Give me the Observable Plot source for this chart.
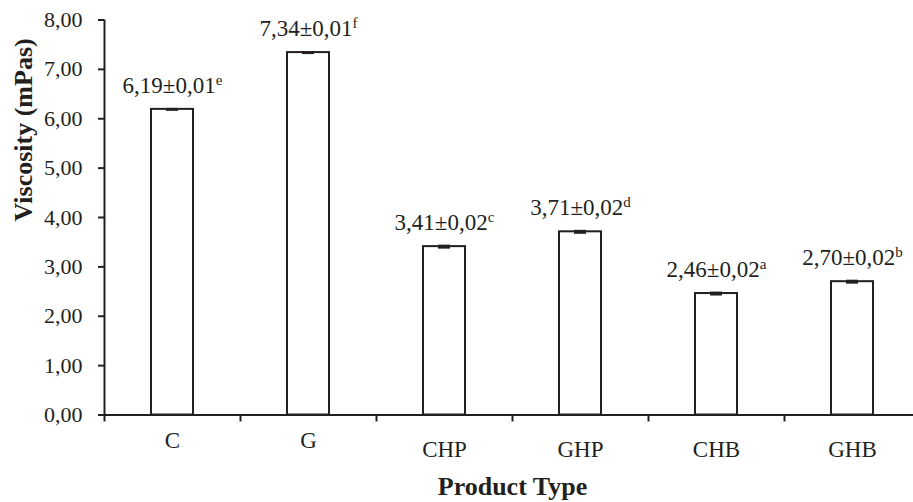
<!DOCTYPE html>
<html><head><meta charset="utf-8">
<script src="https://cdn.jsdelivr.net/npm/d3@7"></script>
<script src="https://cdn.jsdelivr.net/npm/@observablehq/plot@0.6"></script>
<style>
body{margin:0;background:#fff;}
#chart svg{font-family:"Liberation Serif","Times New Roman",serif;}
</style></head><body><div id="chart"></div>
<script>
const categories = ["C", "G", "CHP", "GHP", "CHB", "GHB"];
const viscosity = [6.19, 7.34, 3.41, 3.71, 2.46, 2.70];
const sdev = [0.01, 0.01, 0.02, 0.02, 0.02, 0.02];
const letters = ["e", "f", "c", "d", "a", "b"];
const raisedLabels = ["C", "G"];
const yTicks = [0, 1, 2, 3, 4, 5, 6, 7, 8];
const yTitle = "Viscosity (mPas)";
const xTitle = "Product Type";

const comma = v => v.toFixed(2).replace(".", ",");
const data = categories.map((c, i) => ({
  cat: c, v: viscosity[i], e: sdev[i], letter: letters[i],
  label: comma(viscosity[i]) + "±" + comma(sdev[i])
}));
const ink = "#231f20";
const halfStep = 68;

const plot = Plot.plot({
  width: 913, height: 502,
  marginLeft: 104, marginRight: -7, marginTop: 19.5, marginBottom: 87.5,
  style: {background: "white", color: ink, fontFamily: "'Liberation Serif', serif", overflow: "visible"},
  x: {domain: categories, paddingInner: 0.69, paddingOuter: 0.345, label: null, axis: null},
  y: {domain: [0, 8], label: null, axis: null},
  marks: [
    Plot.text(data, {x: "cat", y: d => d.v + d.e, text: "label", lineAnchor: "bottom", dy: -16, fontSize: 23, fill: ink}),
    Plot.barY(data, {x: "cat", y: "v", fill: "white", stroke: ink, strokeWidth: 2}),
    Plot.ruleX(data, {x: "cat", y1: d => d.v - d.e, y2: d => d.v + d.e, stroke: ink, strokeWidth: 1.5}),
    Plot.tickY(data, {x: "cat", y: d => d.v + d.e, insetLeft: 15, insetRight: 15, stroke: ink, strokeWidth: 2}),
    Plot.tickY(data, {x: "cat", y: d => d.v - d.e, insetLeft: 15, insetRight: 15, stroke: ink, strokeWidth: 2}),
    Plot.ruleY([0], {stroke: ink, strokeWidth: 2}),
    Plot.ruleX([categories[0]], {dx: -halfStep, stroke: ink, strokeWidth: 2}),
    Plot.ruleX(categories, {x: d => d, dx: -halfStep, insetTop: 395, insetBottom: -7, stroke: ink, strokeWidth: 2}),
    Plot.axisY({ticks: yTicks, tickSize: 6, tickPadding: 16, tickFormat: comma, fontSize: 22, stroke: ink, strokeWidth: 2, fill: ink, label: null}),
    Plot.axisX(categories.filter(c => raisedLabels.includes(c)), {tickSize: 0, tickPadding: 17, fontSize: 23, fill: ink, label: null}),
    Plot.axisX(categories.filter(c => !raisedLabels.includes(c)), {tickSize: 0, tickPadding: 26, fontSize: 23, fill: ink, label: null}),
    Plot.text([xTitle], {text: d => d, frameAnchor: "bottom", lineAnchor: "top", dy: 62, fontSize: 26, fontWeight: "bold", fill: ink}),
    Plot.text([yTitle], {text: d => d, frameAnchor: "left", rotate: -90, dx: -81, dy: 4, fontSize: 26, fontWeight: "bold", fill: ink})
  ]
});
document.getElementById("chart").appendChild(plot);

// superscript significance letters appended to the value labels
const labelGroup = plot.querySelectorAll('g[aria-label="text"]')[0];
labelGroup.querySelectorAll("text").forEach((t, i) => {
  const s = document.createElementNS("http://www.w3.org/2000/svg", "tspan");
  s.setAttribute("font-size", "15");
  s.setAttribute("dy", "-8");
  s.textContent = data[i].letter;
  t.appendChild(s);
});
</script></body></html>
